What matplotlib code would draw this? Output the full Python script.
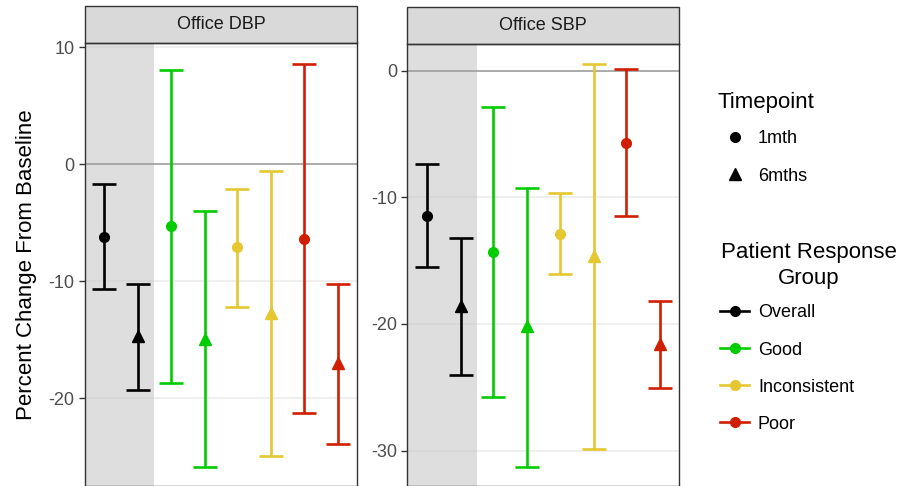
''' Percent change in office blood pressure by response group '''

import numpy as np
import matplotlib.pyplot as plt
from matplotlib.lines import Line2D
from matplotlib.patches import Rectangle

plt.rcParams['font.family'] = ['Liberation Sans', 'DejaVu Sans']
plt.rcParams['axes.unicode_minus'] = False

#groups and colours
groups = ['Overall', 'Good', 'Inconsistent', 'Poor']
colors = ['#000000', '#00CC00', '#E5C730', '#D01F00']
timepoints = ['1mth', '6mths']

#Office DBP: mean, lower and upper limits
dbp_1m = [-6.2, -5.3, -7.1, -6.4]
dbp_1m_lo = [-10.7, -18.7, -12.2, -21.3]
dbp_1m_hi = [-1.7, 8.1, -2.1, 8.6]
dbp_6m = [-14.7, -14.9, -12.7, -17.0]
dbp_6m_lo = [-19.3, -25.9, -24.9, -23.9]
dbp_6m_hi = [-10.2, -4.0, -0.6, -10.2]

#Office SBP
sbp_1m = [-11.5, -14.3, -12.9, -5.7]
sbp_1m_lo = [-15.5, -25.8, -16.1, -11.5]
sbp_1m_hi = [-7.4, -2.9, -9.7, 0.1]
sbp_6m = [-18.6, -20.2, -14.6, -21.6]
sbp_6m_lo = [-24.0, -31.3, -29.9, -25.1]
sbp_6m_hi = [-13.2, -9.3, 0.5, -18.2]

W, H = 904, 486
fig = plt.figure(figsize=(W / 100, H / 100), dpi=100)


def panel(left, right, top, title, ylim, yticks, d1, d1lo, d1hi, d6, d6lo, d6hi):
    ax = fig.add_axes([left / W, 0, (right - left) / W, (H - top) / H])
    ax.set_xlim(0.455, 4.545)
    ax.set_ylim(*ylim)
    ax.set_yticks(yticks)
    ax.set_xticks([])
    ax.grid(axis='y', color='#EBEBEB', lw=1.1, zorder=0)
    ax.set_axisbelow(True)
    ax.axvspan(ax.get_xlim()[0], 1.5, color='#C8C8C8', alpha=0.6, lw=0, zorder=1)
    ax.axhline(0, color='#9A9A9A', lw=1.1, zorder=2)
    x = np.arange(1, len(groups) + 1)
    for i, c in enumerate(colors):
        for dx, m, lo, hi, mk, ms in [(-0.255, d1, d1lo, d1hi, 'o', 7),
                                      (0.255, d6, d6lo, d6hi, '^', 8)]:
            ax.errorbar(x[i] + dx, m[i], yerr=[[m[i] - lo[i]], [hi[i] - m[i]]],
                        fmt=mk, color=c, ms=ms, lw=1.9, capsize=8.3,
                        capthick=1.9, zorder=3)
    for s in ax.spines.values():
        s.set_color('#333333')
        s.set_linewidth(1.0)
    ax.tick_params(axis='y', colors='#333333', labelcolor='#4D4D4D',
                   labelsize=13, length=4, width=1)
    strip_h = 37 / (H - top)
    ax.add_patch(Rectangle((0, 1), 1, strip_h, transform=ax.transAxes,
                           facecolor='#D9D9D9', edgecolor='#333333', lw=1.0,
                           clip_on=False))
    ax.text(0.5, 1 + strip_h / 2, title, transform=ax.transAxes,
            ha='center', va='center', fontsize=13, color='#1A1A1A')
    return ax


ax1 = panel(84.7, 357.3, 43.3, 'Office DBP', (-27.5, 10.34), [-20, -10, 0, 10],
            dbp_1m, dbp_1m_lo, dbp_1m_hi, dbp_6m, dbp_6m_lo, dbp_6m_hi)
ax1.set_ylabel('Percent Change From Baseline', fontsize=16, labelpad=8)
ax2 = panel(407.3, 679.3, 44, 'Office SBP', (-32.8, 2.1), [-30, -20, -10, 0],
            sbp_1m, sbp_1m_lo, sbp_1m_hi, sbp_6m, sbp_6m_lo, sbp_6m_hi)


#Legends, placed in pixel units; text sits on its baseline
def fx(px):
    return px / W


def fy(py):
    return 1 - py / H


fig.text(fx(718), fy(108), 'Timepoint', fontsize=16, va='baseline', ha='left')
for lab, mk, ms, row in zip(timepoints, ['o', '^'], [7, 8], [136.7, 174.3]):
    fig.add_artist(Line2D([fx(735)], [fy(row)], marker=mk, ms=ms, color='black',
                          ls='none', transform=fig.transFigure))
    fig.text(fx(758), fy(row + 6.5), lab, fontsize=13, va='baseline', ha='left')

fig.text(fx(809), fy(258), 'Patient Response', fontsize=16,
         va='baseline', ha='center')
fig.text(fx(809), fy(284), 'Group', fontsize=16, va='baseline', ha='center')
for lab, c, row in zip(groups, colors, [310.7, 348.3, 385, 422.3]):
    fig.add_artist(Line2D([fx(720), fx(749.5)], [fy(row), fy(row)], color=c,
                          lw=1.9, transform=fig.transFigure))
    fig.add_artist(Line2D([fx(735)], [fy(row)], marker='o', ms=7, color=c,
                          ls='none', transform=fig.transFigure))
    fig.text(fx(758), fy(row + 6.5), lab, fontsize=13, va='baseline', ha='left')

fig.savefig('out.png', dpi=100)
